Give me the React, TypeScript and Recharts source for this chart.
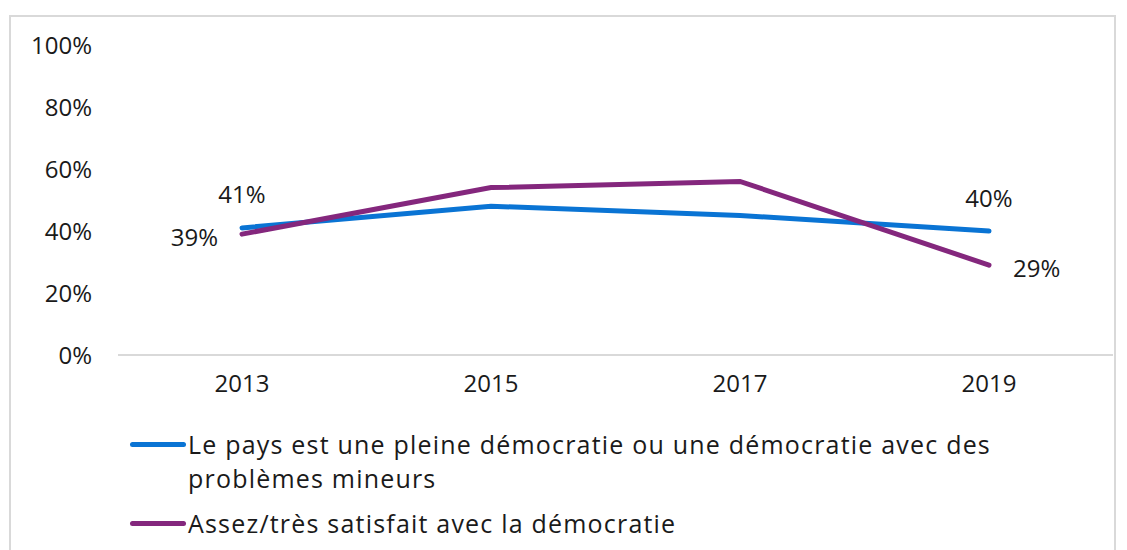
import React from 'react';
import { LineChart, Line, XAxis, YAxis, Legend, LabelList } from 'recharts';

const years = ['2013', '2015', '2017', '2019'];
const fullDemocracy = [41, 48, 45, 40];
const satisfied = [39, 54, 56, 29];
const yTicks = [0, 20, 40, 60, 80, 100];
const seriesNames = [
  'Le pays est une pleine démocratie ou une démocratie avec des problèmes mineurs',
  'Assez/très satisfait avec la démocratie',
];
const seriesColors = ['#0A74D4', '#84277D'];

const data = years.map((y, i) => ({ year: y, a: fullDemocracy[i], b: satisfied[i] }));

const FONT = '"Open Sans", sans-serif';
const TEXT = '#1a1a1a';

const lastIndex = years.length - 1;

const BlueLabel = (props: any) => {
  const { x, y, value, index } = props;
  if (index !== 0 && index !== lastIndex) return null;
  return (
    <text x={x} y={y - 34} textAnchor="middle" dominantBaseline="central" fontSize={24} fontFamily={FONT} fill={TEXT}>
      {value}%
    </text>
  );
};

const PurpleLabel = (props: any) => {
  const { x, y, value, index } = props;
  if (index !== 0 && index !== lastIndex) return null;
  const left = index === 0;
  return (
    <text
      x={left ? x - 24 : x + 24}
      y={y + 2}
      textAnchor={left ? 'end' : 'start'}
      dominantBaseline="central"
      fontSize={24}
      fontFamily={FONT}
      fill={TEXT}
    >
      {value}%
    </text>
  );
};

const LegendContent = () => (
  <div style={{ height: 125, paddingLeft: 130, paddingTop: 2, boxSizing: 'border-box', fontFamily: FONT, fontSize: 25, letterSpacing: 1.2, color: TEXT }}>
    {seriesNames.map((name, i) => (
      <div key={name} style={{ display: 'flex', alignItems: 'flex-start', marginTop: i === 0 ? 0 : 11 }}>
        <div style={{ width: 58, height: 34, display: 'flex', alignItems: 'center', flexShrink: 0 }}>
          <div style={{ width: 56, height: 5, borderRadius: 3, background: seriesColors[i] }} />
        </div>
        <div style={{ width: 860, lineHeight: '34px', whiteSpace: 'normal' }}>{name}</div>
      </div>
    ))}
  </div>
);

export default function App() {
  return (
    <div style={{ position: 'fixed', left: 0, top: 0, width: 1127, height: 550, overflow: 'hidden', background: '#fff' }}>
      <div
        style={{
          position: 'absolute',
          left: 9,
          top: 15,
          width: 1107,
          height: 600,
          border: '2px solid #d9d9d9',
          boxSizing: 'border-box',
        }}
      />
      <div style={{ position: 'absolute', left: 0, top: 0 }}>
        <LineChart width={1127} height={550} data={data} margin={{ top: 45, right: 14, left: 28, bottom: 0 }}>
          <XAxis
            dataKey="year"
            padding={{ left: 124, right: 124 }}
            axisLine={{ stroke: '#d9d9d9', strokeWidth: 2 }}
            tickLine={false}
            tickSize={0}
            tickMargin={20}
            height={70}
            tick={{ fontSize: 24, fontFamily: FONT, fill: TEXT }}
          />
          <YAxis
            width={90}
            domain={[0, 100]}
            ticks={yTicks}
            tickFormatter={(v: number) => `${v}%`}
            axisLine={false}
            tickLine={false}
            tickSize={0}
            tickMargin={26}
            tick={{ fontSize: 24, fontFamily: FONT, fill: TEXT }}
          />
          <Legend verticalAlign="bottom" align="left" height={125} content={<LegendContent />} wrapperStyle={{ left: 0, width: 1127 }} />
          <Line
            type="linear"
            dataKey="a"
            name={seriesNames[0]}
            stroke={seriesColors[0]}
            strokeWidth={5}
            strokeLinecap="round"
            dot={false}
            activeDot={false}
            isAnimationActive={false}
          >
            <LabelList dataKey="a" content={<BlueLabel />} />
          </Line>
          <Line
            type="linear"
            dataKey="b"
            name={seriesNames[1]}
            stroke={seriesColors[1]}
            strokeWidth={5}
            strokeLinecap="round"
            dot={false}
            activeDot={false}
            isAnimationActive={false}
          >
            <LabelList dataKey="b" content={<PurpleLabel />} />
          </Line>
        </LineChart>
      </div>
    </div>
  );
}
